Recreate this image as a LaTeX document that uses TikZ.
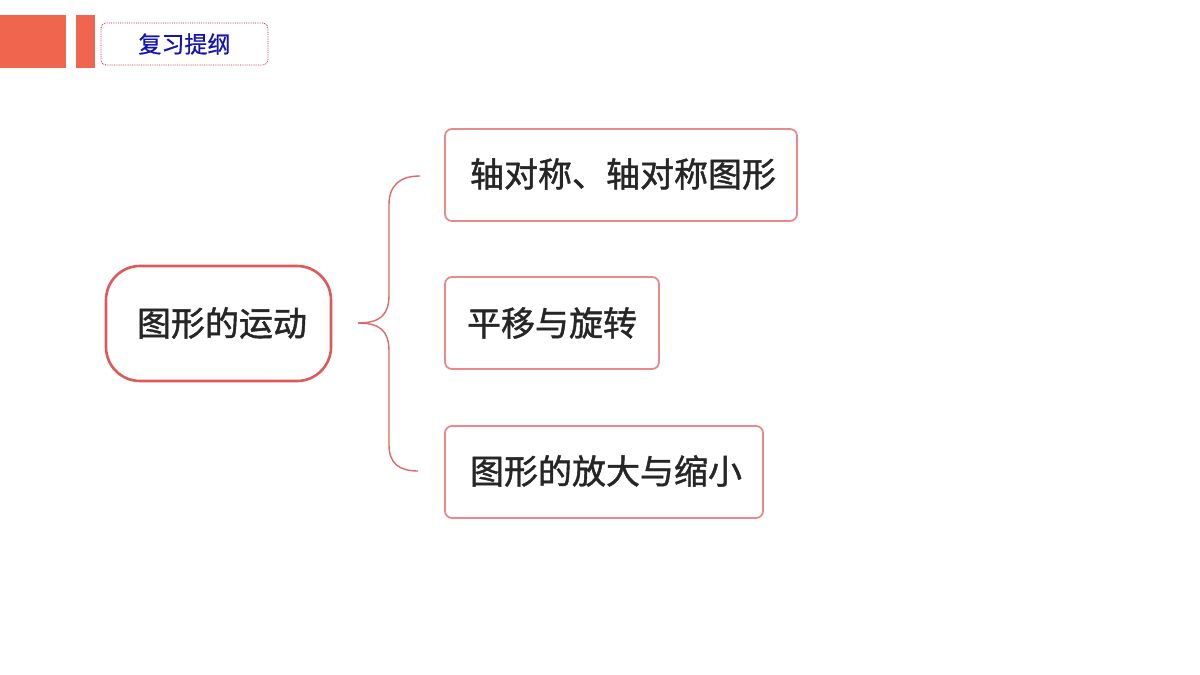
\documentclass[tikz,border=0pt]{standalone}
\usepackage{fontspec}
\newfontfamily\cjk[FakeBold=1.3]{Noto Sans CJK SC}
\newfontfamily\cjkt[FakeBold=0.8]{Noto Sans CJK SC}
\definecolor{barorange}{HTML}{F0654E}
\definecolor{titleblue}{HTML}{1414B4}
\definecolor{dotred}{HTML}{A0303A}
\definecolor{mainred}{HTML}{DE5A5A}
\definecolor{childred}{HTML}{E88A8A}
\definecolor{bracered}{HTML}{E06868}
\begin{document}
\begin{tikzpicture}[x=1pt,y=-1pt,
  bar/.style={fill=barorange,draw=none},
  titlebox/.style={draw=dotred,densely dotted,line width=0.8pt,rounded corners=5pt,inner sep=0pt},
  mainbox/.style={draw=mainred,line width=2.6pt,rounded corners=34pt,inner sep=0pt},
  childbox/.style={draw=childred,line width=1.8pt,rounded corners=7pt,inner sep=0pt},
  brace/.style={draw=bracered,line width=1.4pt},
  cjktext/.style={font=\cjk\fontsize{34}{38}\selectfont,text=black!85}]
\useasboundingbox (0,0) rectangle (1200,675);
\fill[white] (0,0) rectangle (1200,675);
% header bars
\path[bar] (0,15) rectangle (66,68);
\path[bar] (76,15) rectangle (95,68);
\node[titlebox,minimum width=167pt,minimum height=42pt] (title) at (184.5,44) {};
\node[font=\cjkt\fontsize{23}{26}\selectfont,text=titleblue] (titletext) at (title.center) {复习提纲};
% main node
\node[mainbox,minimum width=225pt,minimum height=115pt] (main) at (218.5,323.5) {};
\node[cjktext] (maintext) at (222,323) {图形的运动};
% children
\node[childbox,minimum width=352pt,minimum height=92pt] (c1) at (621,175) {};
\node[cjktext] (c1text) at (623,174) {轴对称、轴对称图形};
\node[childbox,minimum width=214pt,minimum height=92pt] (c2) at (552,323) {};
\node[cjktext] (c2text) at (552,323) {平移与旋转};
\node[childbox,minimum width=318pt,minimum height=92pt] (c3) at (604,472) {};
\node[cjktext] (c3text) at (606,471) {图形的放大与缩小};
% brace
\coordinate (tip) at (358,323);
\coordinate (e1) at (420,176);
\coordinate (e3) at (418,471);
\draw[brace] (tip) .. controls (380,323) and (389,315) .. (389,295) -- (389,205) .. controls (389,185) and (400,176) .. (e1);
\draw[brace] (tip) .. controls (380,323) and (389,331) .. (389,351) -- (389,445) .. controls (389,464) and (400,471) .. (e3);
\end{tikzpicture}
\end{document}
